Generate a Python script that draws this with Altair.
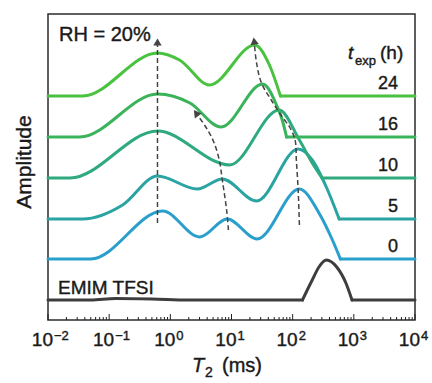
import math
import altair as alt
import pandas as pd

FONT = "Liberation Sans"
INK = "#1a1a1a"

# x values are log10(T2 / ms); y values are stacked amplitudes (arbitrary units, offset per curve)
emim_x = [-2.0, -1.3, -0.9, -0.3, 0.3, 2.16, 2.32, 2.43, 2.55, 2.72, 2.87, 2.97, 4.0]
emim_y = [20, 20, 21.5, 21, 20, 20, 40, 53, 60, 53, 37, 20, 20]
emim_breaks = [5, 11]

h0_x = [-2.0, -1.3, -0.125, 0.48, 0.93, 1.42, 2.11, 2.43, 2.65, 2.78, 4.0]
h0_y = [61, 61, 109, 83, 101, 81, 131, 107, 80, 61, 61]
h0_breaks = [9]

h5_x = [-2.0, -1.43, -0.78, -0.21, 0.44, 0.85, 1.41, 2.09, 2.32, 2.55, 2.76, 4.0]
h5_y = [101, 101, 115, 144, 131, 141, 119, 171, 160, 133, 101, 101]
h5_breaks = [10]

h10_x = [-2.0, -1.64, -0.21, 0.97, 1.78, 2.11, 2.32, 2.48, 4.0]
h10_y = [142, 142, 189, 155, 210, 180, 157, 142, 142]
h10_breaks = [7]

h16_x = [-2.0, -1.48, -0.21, 0.32, 0.83, 1.51, 1.75, 1.83, 1.90, 4.0]
h16_y = [183, 183, 226, 217, 193, 236, 213, 200, 183, 183]
h16_breaks = [8]

h24_x = [-2.0, -1.43, -0.21, 0.15, 0.64, 1.38, 1.62, 1.80, 4.0]
h24_y = [224, 224, 267, 260, 235, 275, 255, 224, 224]
h24_breaks = [7]

series_names = ["EMIM", "0", "5", "10", "16", "24"]
series_colors = ["#3d3d3d", "#2a9fcc", "#29a4a2", "#2faa7e", "#3ab35b", "#49c23f"]

# dashed peak-shift arrows
arr1_x = [-0.21, -0.21]
arr1_y = [97, 278]
arr2_x = [0.95, 0.92, 0.85, 0.80, 0.71, 0.59, 0.42]
arr2_y = [90, 110, 140, 160, 178, 192, 207]
arr3_x = [2.11, 2.09, 2.06, 2.04, 1.95, 1.83, 1.65, 1.49, 1.41, 1.37]
arr3_y = [95, 130, 160, 180, 193, 203, 220, 237, 257, 279]
head_angles = [0, 323, 352]

# right-hand labels
t_labels = ["24", "16", "10", "5", "0"]
t_baselines = [224, 183, 142, 101, 61]

# x tick labels
major_exp = [-2, -1, 0, 1, 2, 3, 4]
exp_text = ["\u22122", "\u22121", "0", "1", "2", "3", "4"]

# ---------------------------------------------------------------
rows = []
for name, xs, ys, brk in zip(series_names,
                             [emim_x, h0_x, h5_x, h10_x, h16_x, h24_x],
                             [emim_y, h0_y, h5_y, h10_y, h16_y, h24_y],
                             [emim_breaks, h0_breaks, h5_breaks, h10_breaks, h16_breaks, h24_breaks]):
    bounds = [0] + brk + [len(xs) - 1]
    for s in range(len(bounds) - 1):
        for i in range(bounds[s], bounds[s + 1] + 1):
            rows.append({"series": name, "seg": f"{name}-{s}", "L": xs[i], "v": ys[i], "idx": i})
curves = pd.DataFrame(rows)

arows = []
for k, (xs, ys) in enumerate([(arr1_x, arr1_y), (arr2_x, arr2_y), (arr3_x, arr3_y)]):
    for i, (a, b) in enumerate(zip(xs, ys)):
        arows.append({"arrow": k, "L": a, "v": b, "idx": i})
arrows = pd.DataFrame(arows)
heads = pd.DataFrame({
    "L": [arr1_x[-1], arr2_x[-1], arr3_x[-1]],
    "v": [arr1_y[-1], arr2_y[-1], arr3_y[-1]],
    "ang": head_angles,
})

majors = pd.DataFrame({"L": major_exp, "exp": exp_text})
minors = pd.DataFrame({"L": [n + math.log10(k) for n in range(-2, 4) for k in range(2, 10)]})
tlab = pd.DataFrame({"lab": t_labels, "v": t_baselines})
one = pd.DataFrame({"a": [0]})

X = alt.X("L:Q", scale=alt.Scale(domain=[-2, 4], nice=False, zero=False), axis=None)
Y = alt.Y("v:Q", scale=alt.Scale(domain=[0, 306], nice=False, zero=False), axis=None)

lines = alt.Chart(curves).mark_line(interpolate="monotone", strokeWidth=3, strokeJoin="round",
                                    strokeCap="round").encode(
    x=X, y=Y,
    color=alt.Color("series:N", scale=alt.Scale(domain=series_names, range=series_colors), legend=None),
    detail="seg:N",
    order="idx:Q",
)

dash = alt.Chart(arrows).mark_line(interpolate="catmull-rom", strokeDash=[5, 3], strokeWidth=1.5,
                                   color="#444444").encode(x=X, y=Y, detail="arrow:N", order="idx:Q")
head = alt.Chart(heads).mark_point(shape="triangle-up", filled=True, size=70, color="#444444",
                                   opacity=1).encode(x=X, y=Y, angle=alt.Angle("ang:Q", scale=None))

tick_major = alt.Chart(majors).mark_rule(color="#222222", strokeWidth=1).encode(
    x=X, y=alt.value(306), y2=alt.value(300))
tick_minor = alt.Chart(minors).mark_rule(color="#222222", strokeWidth=1).encode(
    x=X, y=alt.value(306), y2=alt.value(303))

TXT = dict(font=FONT, color=INK, stroke=INK, strokeWidth=0.4)

lab_base = alt.Chart(majors).mark_text(text="10", align="right", baseline="alphabetic", dx=5,
                                       fontSize=19, **TXT).encode(x=X, y=alt.value(332))
lab_exp = alt.Chart(majors).mark_text(align="left", baseline="alphabetic", dx=6,
                                      fontSize=13, **TXT).encode(
    x=X, y=alt.value(326), text="exp:N")

rlabels = alt.Chart(tlab).mark_text(align="right", baseline="alphabetic", dy=-7, fontSize=18,
                                    **TXT).encode(x=alt.value(350), y=Y, text="lab:N")


def label(txt, x, y, size, align="left", style="normal", angle=0, baseline="alphabetic"):
    return alt.Chart(one).mark_text(text=txt, align=align, baseline=baseline, fontSize=size,
                                    fontStyle=style, angle=angle, **TXT).encode(
        x=alt.value(x), y=alt.value(y))


texts = [
    label("RH = 20%", 11, 27, 20),
    label("EMIM TFSI", 10, 280, 19),
    label("t", 300, 45, 19, style="italic"),
    label("exp", 307, 51, 13),
    label("(h)", 332, 45, 19),
    label("T", 144, 358, 20, style="italic"),
    label("2", 157, 363, 14),
    label("(ms)", 174, 358, 20),
    label("Amplitude", -23, 148, 21, align="center", angle=270, baseline="middle"),
]

chart = alt.layer(lines, dash, head, tick_major, tick_minor, lab_base, lab_exp, rlabels, *texts).properties(
    width=367, height=306,
    padding={"left": 48, "top": 14, "right": 17, "bottom": 63},
    autosize="none",
).configure_view(stroke="#2b2b2b", strokeWidth=1.5)

chart.save("out.html", embed_options={"renderer": "svg", "actions": False})
